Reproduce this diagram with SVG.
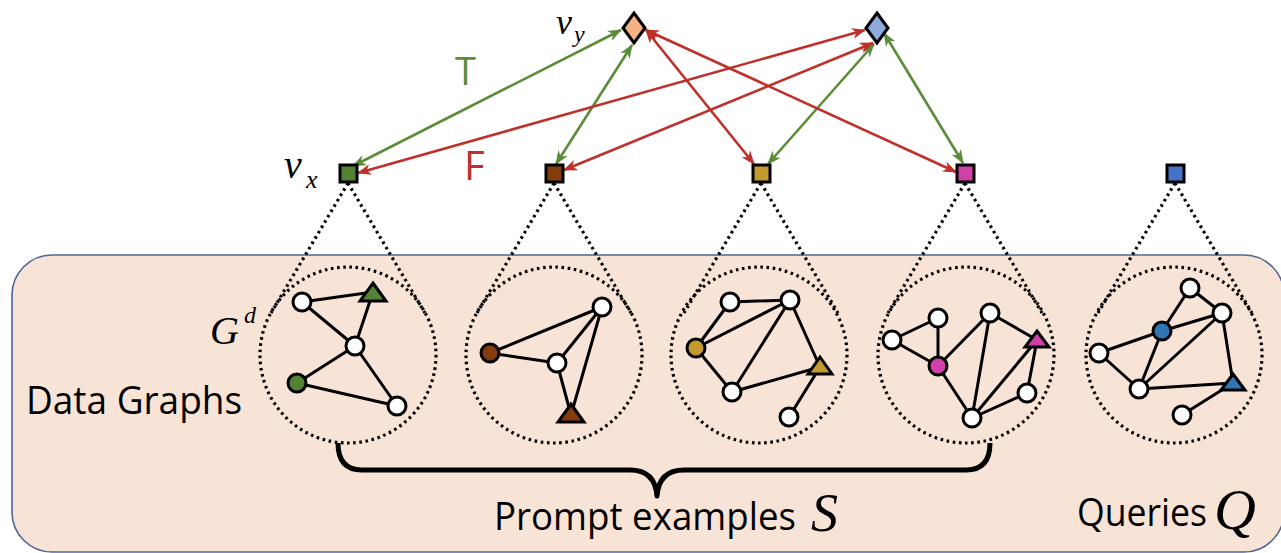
<svg xmlns="http://www.w3.org/2000/svg" width="1281" height="553" viewBox="0 0 1281 553">
<style>
.bg{fill:#F8E4D6;stroke:#4F6596;stroke-width:1.6}
.dot{fill:none;stroke:#000;stroke-width:3.2;stroke-dasharray:2.6 3.6}
.e{stroke:#000;stroke-width:3;fill:none}
.w{fill:#fff;stroke:#000;stroke-width:3}
.nd{stroke:#000;stroke-width:3}
.sq{stroke:#000;stroke-width:3}
.ga{stroke:#5B8C3A;stroke-width:2.6;fill:none;marker-start:url(#ag);marker-end:url(#ag)}
.ra{stroke:#C0302A;stroke-width:2.6;fill:none;marker-start:url(#ar);marker-end:url(#ar)}
.lbl{font-family:"Open Sans","Liberation Sans",sans-serif;font-size:38px;fill:#000}
.m{font-family:"Liberation Serif","DejaVu Serif",serif;font-style:italic;fill:#000}
.brace{fill:none;stroke:#000;stroke-width:5;stroke-linejoin:round}
</style>
<defs>
<marker id="ag" viewBox="0 0 14 11" refX="13" refY="5.5" markerWidth="14" markerHeight="11" markerUnits="userSpaceOnUse" orient="auto-start-reverse"><path d="M0,0 L14,5.5 L0,11 L4,5.5 Z" fill="#5B8C3A"/></marker>
<marker id="ar" viewBox="0 0 14 11" refX="13" refY="5.5" markerWidth="14" markerHeight="11" markerUnits="userSpaceOnUse" orient="auto-start-reverse"><path d="M0,0 L14,5.5 L0,11 L4,5.5 Z" fill="#C0302A"/></marker>
</defs>

<rect class="bg" x="12" y="255" width="1272" height="297" rx="40" ry="40"/>

<g id="labels">
<text class="lbl" x="26" y="414" textLength="216" lengthAdjust="spacingAndGlyphs">Data Graphs</text>
<text class="lbl" x="494" y="530" textLength="302" lengthAdjust="spacingAndGlyphs">Prompt examples</text>
<text class="m" x="811" y="531" font-size="54">S</text>
<text class="lbl" x="1077" y="526" textLength="130" lengthAdjust="spacingAndGlyphs">Queries</text>
<text class="m" x="1214" y="529" font-size="58">Q</text>
<text class="m" x="210" y="344" font-size="40">G</text>
<text class="m" x="244" y="323" font-size="24">d</text>
<text class="m" x="284" y="178" font-size="40">v</text>
<text class="m" x="306" y="188" font-size="26">x</text>
<text class="m" x="556" y="34" font-size="36">v</text>
<text class="m" x="574" y="42" font-size="24">y</text>
<text x="455" y="85" font-family="Open Sans, Liberation Sans, sans-serif" font-size="38" fill="#5B8C3A">T</text>
<text x="464" y="180" font-family="Open Sans, Liberation Sans, sans-serif" font-size="40" fill="#C0302A">F</text>
</g>

<g id="connectors">
<line class="ga" x1="621" y1="30" x2="353" y2="166"/>
<line class="ga" x1="632" y1="45" x2="556" y2="164"/>
<line class="ga" x1="874" y1="44" x2="768" y2="164"/>
<line class="ga" x1="884" y1="33" x2="963" y2="163"/>
<line class="ra" x1="865" y1="30" x2="358" y2="173"/>
<line class="ra" x1="873" y1="43" x2="564" y2="170"/>
<line class="ra" x1="646" y1="30" x2="754" y2="164"/>
<line class="ra" x1="646" y1="30" x2="956" y2="172"/>
<path class="dot" d="M348,183 L271,313 M348,183 L425,313"/>
<path class="dot" d="M554,183 L477,313 M554,183 L631,313"/>
<path class="dot" d="M761,183 L684,313 M761,183 L838,313"/>
<path class="dot" d="M965,183 L888,313 M965,183 L1042,313"/>
<path class="dot" d="M1175,183 L1098,313 M1175,183 L1252,313"/>
<path class="brace" d="M338,443 Q338,470 362,470 L630,470 Q655,470 657,496 Q659,470 684,470 L966,470 Q990,470 990,443"/>
</g>

<g id="vy1"><polygon points="634,13 645,28 634,43 623,28" fill="#F4B183" stroke="#000" stroke-width="3"/></g>
<g id="vy2"><polygon points="877,13 888,28 877,43 866,28" fill="#8FAADC" stroke="#000" stroke-width="3"/></g>

<g id="vx1"><rect class="sq" x="340" y="165" width="17" height="17" fill="#548235"/></g>
<g id="vx2"><rect class="sq" x="546" y="165" width="17" height="17" fill="#843C0C"/></g>
<g id="vx3"><rect class="sq" x="753" y="165" width="17" height="17" fill="#C29A30"/></g>
<g id="vx4"><rect class="sq" x="957" y="165" width="17" height="17" fill="#D040A8"/></g>
<g id="vq"><rect class="sq" x="1167" y="165" width="17" height="17" fill="#4472C4"/></g>

<g id="graph1">
<circle class="dot" cx="348" cy="355" r="88"/>
<path class="e" d="M302,302 L373,292 M302,302 L355,346 M373,292 L355,346 M355,346 L297,383 M355,346 L397,406 M297,383 L397,406"/>
<circle class="w" cx="302" cy="302" r="9"/>
<circle class="w" cx="355" cy="346" r="9"/>
<circle class="w" cx="397" cy="406" r="9"/>
<circle class="nd" cx="297" cy="383" r="9" fill="#548235"/>
<polygon class="nd" points="373,283 386,301 360,301" fill="#548235"/>
</g>

<g id="graph2">
<circle class="dot" cx="554" cy="355" r="88"/>
<path class="e" d="M490,353 L602,307 M490,353 L557,363 M557,363 L602,307 M557,363 L571,415 M602,307 L571,415"/>
<circle class="w" cx="602" cy="307" r="9"/>
<circle class="w" cx="557" cy="363" r="9"/>
<circle class="nd" cx="490" cy="353" r="9" fill="#843C0C"/>
<polygon class="nd" points="571,404 584,422 558,422" fill="#843C0C"/>
</g>

<g id="graph3">
<circle class="dot" cx="759" cy="355" r="88"/>
<path class="e" d="M730,302 L790,300 M730,302 L696,348 M696,348 L790,300 M696,348 L732,392 M732,392 L790,300 M790,300 L820,367 M732,392 L820,367 M820,367 L789,417"/>
<circle class="w" cx="730" cy="302" r="9"/>
<circle class="w" cx="790" cy="300" r="9"/>
<circle class="w" cx="732" cy="392" r="9"/>
<circle class="w" cx="789" cy="417" r="9"/>
<circle class="nd" cx="696" cy="348" r="9" fill="#C29A30"/>
<polygon class="nd" points="820,357 832,374 808,374" fill="#C29A30"/>
</g>

<g id="graph4">
<circle class="dot" cx="966" cy="355" r="88"/>
<path class="e" d="M892,340 L938,318 M892,340 L938,366 M938,318 L938,366 M938,366 L990,313 M938,366 L972,418 M990,313 L972,418 M990,313 L1037,340 M972,418 L1037,340 M972,418 L1027,393 M1027,393 L1037,340"/>
<circle class="w" cx="892" cy="340" r="9"/>
<circle class="w" cx="938" cy="318" r="9"/>
<circle class="w" cx="990" cy="313" r="9"/>
<circle class="w" cx="1027" cy="393" r="9"/>
<circle class="w" cx="972" cy="418" r="9"/>
<circle class="nd" cx="938" cy="366" r="9" fill="#D040A8"/>
<polygon class="nd" points="1037,331 1049,347 1025,347" fill="#D040A8"/>
</g>

<g id="graph5">
<circle class="dot" cx="1174" cy="355" r="88"/>
<path class="e" d="M1190,288 L1162,331 M1190,288 L1222,313 M1162,331 L1222,313 M1162,331 L1099,353 M1099,353 L1139,389 M1162,331 L1139,389 M1139,389 L1222,313 M1139,389 L1233,383 M1222,313 L1233,383 M1233,383 L1182,415"/>
<circle class="w" cx="1190" cy="288" r="9"/>
<circle class="w" cx="1222" cy="313" r="9"/>
<circle class="w" cx="1099" cy="353" r="9"/>
<circle class="w" cx="1139" cy="389" r="9"/>
<circle class="w" cx="1182" cy="415" r="9"/>
<circle class="nd" cx="1162" cy="331" r="9" fill="#2E75B6"/>
<polygon class="nd" points="1233,374 1245,390 1221,390" fill="#2E75B6"/>
</g>
</svg>
